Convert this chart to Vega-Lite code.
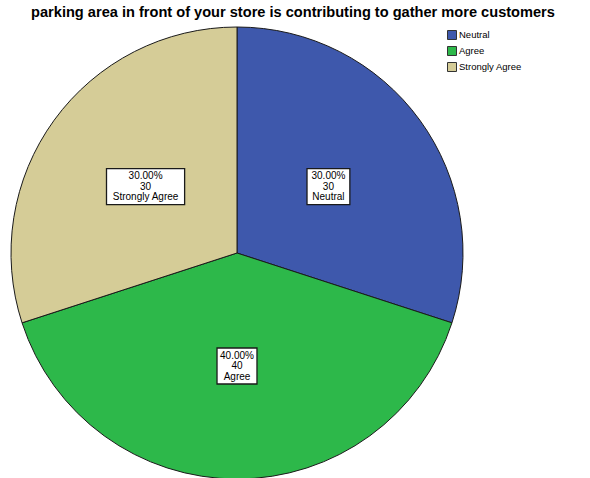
{
  "$schema": "https://vega.github.io/schema/vega-lite/v6.json",
  "width": 474,
  "height": 452,
  "autosize": "none",
  "padding": {"left": 0, "top": 27, "right": 116, "bottom": 0},
  "background": "white",
  "view": {"stroke": null},
  "title": {
    "text": "parking area in front of your store is contributing to gather more customers",
    "font": "Liberation Sans",
    "fontSize": 14.6,
    "fontWeight": "bold",
    "color": "black",
    "anchor": "middle",
    "dx": 56,
    "offset": 5
  },
  "data": {
    "values": [
      {"category": "Neutral", "count": 30, "order": 1, "label": "30.00%\n30\nNeutral"},
      {"category": "Agree", "count": 40, "order": 2, "label": "40.00%\n40\nAgree"},
      {"category": "Strongly Agree", "count": 30, "order": 3, "label": "30.00%\n30\nStrongly Agree"}
    ]
  },
  "layer": [
    {
      "mark": {"type": "arc", "outerRadius": 226, "stroke": "#1a1a1a", "strokeWidth": 1},
      "encoding": {
        "theta": {"field": "count", "type": "quantitative", "stack": true},
        "order": {"field": "order", "type": "quantitative"},
        "color": {
          "field": "category",
          "type": "nominal",
          "scale": {"domain": ["Neutral", "Agree", "Strongly Agree"], "range": ["#3E58AC", "#2DB84A", "#D5CC97"]},
          "legend": {
            "title": null,
            "orient": "none",
            "legendX": 447,
            "legendY": 3,
            "symbolType": "square",
            "symbolSize": 81,
            "symbolStrokeColor": "#333333",
            "symbolStrokeWidth": 1,
            "labelFont": "Liberation Sans",
            "labelFontSize": 9.5,
            "labelColor": "black",
            "labelOffset": 2,
            "rowPadding": 2
          }
        }
      }
    },
    {
      "transform": [
        {"stack": "count", "groupby": [], "sort": [{"field": "order"}], "as": ["s0", "s1"]},
        {"joinaggregate": [{"op": "sum", "field": "count", "as": "total"}]},
        {"calculate": "PI * (datum.s0 + datum.s1) / datum.total", "as": "mid"},
        {"calculate": "sin(datum.mid)", "as": "px"},
        {"calculate": "cos(datum.mid)", "as": "py"}
      ],
      "encoding": {
        "x": {"field": "px", "type": "quantitative", "scale": {"domain": [-2.097, 2.097], "nice": false, "zero": false}, "axis": null},
        "y": {"field": "py", "type": "quantitative", "scale": {"domain": [-2.0, 2.0], "nice": false, "zero": false}, "axis": null}
      },
      "layer": [
        {
          "mark": {"type": "point", "filled": true, "fill": "white", "stroke": "#1a1a1a", "strokeWidth": 1.3, "opacity": 1, "size": 1296},
          "encoding": {
            "shape": {
              "field": "label",
              "type": "nominal",
              "scale": {
                "domain": ["30.00%\n30\nNeutral", "40.00%\n40\nAgree", "30.00%\n30\nStrongly Agree"],
                "range": ["M-1.19,-1L1.19,-1L1.19,1L-1.19,1Z", "M-1.11,-1L1.11,-1L1.11,1L-1.11,1Z", "M-2.17,-1L2.17,-1L2.17,1L-2.17,1Z"]
              },
              "legend": null
            }
          }
        },
        {
          "mark": {"type": "text", "lineBreak": "\n", "font": "Liberation Sans", "fontSize": 10, "lineHeight": 10.5, "baseline": "middle", "dy": -10.5, "color": "black"},
          "encoding": {"text": {"field": "label", "type": "nominal"}}
        }
      ]
    }
  ]
}
